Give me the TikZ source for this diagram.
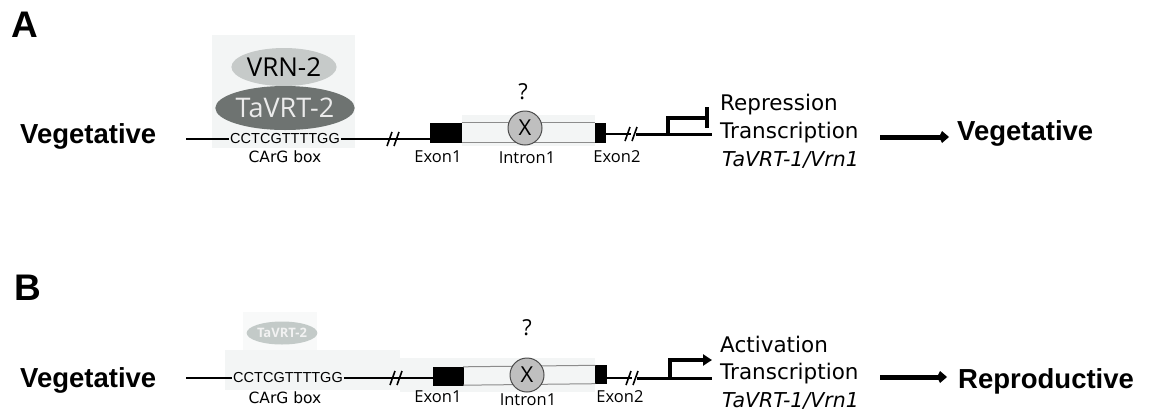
\documentclass[tikz,border=0pt]{standalone}
\usepackage{fontspec}
\setmainfont{Liberation Sans}
\newfontfamily\dvs{DejaVu Sans}
\newfontfamily\osans{Open Sans}
\usetikzlibrary{arrows.meta,shapes.geometric}
\definecolor{pale}{HTML}{F3F5F5}
\definecolor{vrnfill}{HTML}{C6CAC9}
\definecolor{vrtfill}{HTML}{6E7371}
\definecolor{faint}{HTML}{C3CAC8}
\begin{document}
\begin{tikzpicture}[x=1pt,y=-1pt,
  panel/.style={font=\fontsize{37}{40}\selectfont\bfseries, anchor=base west, inner sep=0},
  stage/.style={font=\fontsize{27.5}{30}\selectfont\bfseries, anchor=base west, inner sep=0},
  rtext/.style={font=\dvs\fontsize{21.5}{24}\selectfont, anchor=base west, inner sep=0},
  gene/.style={font=\dvs\itshape\fontsize{20.5}{24}\selectfont, anchor=base west, inner sep=0},
  seq/.style={font=\fontsize{14.5}{16}\selectfont, inner sep=1pt},
  carg/.style={font=\dvs\fontsize{15.5}{18}\selectfont},
  exlab/.style={font=\osans\fontsize{16.5}{18}\selectfont},
  exonbox/.style={fill=black, draw=black, inner sep=0},
  xcirc/.style={circle, draw=black!70, fill=black!25, line width=1pt, minimum size=34pt, inner sep=0, font=\osans\fontsize{22}{24}\selectfont},
  qmark/.style={font=\osans\fontsize{22}{24}\selectfont},
  dnathin/.style={line width=1.6pt},
  dnathick/.style={line width=3pt},
  brk/.style={line width=1.6pt},
  promo/.style={line width=3.2pt},
  bigarrow/.style={line width=5pt, -{Kite[length=10pt,width=12pt,inset=3pt]}},
  introl/.style={line width=1pt, draw=black!45}
]
\useasboundingbox (0,0) rectangle (1151,413);

%% ================= Panel A =================
\node[panel] (A) at (11,37) {A};
\node[stage] (vegA) at (20,143) {Vegetative};
% protein background
\fill[pale] (212,35) rectangle (355,148);
\node[ellipse, fill=vrnfill, minimum width=82pt, minimum height=38pt, inner sep=0,
      font=\osans\fontsize{26}{28}\selectfont] (vrn2) at (284,67) {VRN-2};
\node[ellipse, fill=vrtfill, minimum width=134pt, minimum height=44pt, inner sep=0,
      text=white!92!black, font=\osans\fontsize{27}{28}\selectfont] (vrt2) at (285,108) {TaVRT-2};
\node[seq] (seqA) at (285,139) {CCTCGTTTTGG};
\node[carg] (cargA) at (285,157) {CArG box};
\coordinate (a0) at (186,139);
\coordinate (ab) at (393,139);
% intron
\fill[pale] (462,115) rectangle (595,146);
\node[exonbox, minimum width=31pt, minimum height=19pt] (ex1A) at (446,132.5) {};
\node[exonbox, minimum width=10pt, minimum height=19pt] (ex2A) at (600,132.5) {};
\draw[introl] (ex1A.north east) -- (ex2A.north west);
\draw[introl] (ex1A.south east) -- (ex2A.south west);
\node[xcirc] (xA) at (525,128) {X};
\node[qmark] (qA) at (523,92) {?};
\node[exlab] (e1lA) at (438,157) {Exon1};
\node[exlab] (i1lA) at (527,158) {Intron1};
\node[exlab] (e2lA) at (617,157) {Exon2};
\draw[dnathin] (a0) -- (seqA.west);
\draw[dnathin] (seqA.east) -- (ab) -- (ex1A.west |- ab);
\draw[brk] ([shift={(-6,7)}]ab) -- ([shift={(-1,-7)}]ab);
\draw[brk] ([shift={(1,7)}]ab) -- ([shift={(6,-7)}]ab);
\coordinate (ac) at (631,134);
\coordinate (ac2) at (636,134);
\coordinate (apr) at (668,134);
\coordinate (aend) at (712,134);
\draw[dnathin] (ex2A.east |- ac) -- (ac);
\draw[dnathick] (ac2) -- (aend);
\draw[brk] ([shift={(-6,7)}]ac) -- ([shift={(-1,-7)}]ac);
\draw[brk] ([shift={(1,7)}]ac) -- ([shift={(6,-7)}]ac);
\coordinate (abar) at (707,118);
\draw[promo] (apr) |- (abar);
\draw[promo] (707,107) -- (707,128);
\node[rtext] (repA) at (720,110) {Repression};
\node[rtext] (trA) at (720,138) {Transcription};
\node[gene] (genA) at (722,166) {TaVRT-1/Vrn1};
\node[stage] (vegRA) at (957,140) {Vegetative};
\coordinate (arA1) at (880,137);
\coordinate (arA2) at (949,137);
\draw[bigarrow] (arA1) -- (arA2);

%% ================= Panel B =================
\node[panel] (B) at (14,300) {B};
\node[stage] (vegB) at (20,387) {Vegetative};
\fill[pale!60!white] (243,312) rectangle (317,350);
\fill[pale] (225,350) rectangle (400,390);
\node[ellipse, fill=faint, minimum width=62pt, minimum height=23pt, inner sep=0,
      text=white!95!black, font=\osans\bfseries\fontsize{13}{14}\selectfont] (vrt2B) at (282,333) {TaVRT-2};
\node[seq] (seqB) at (288,378) {CCTCGTTTTGG};
\node[carg] (cargB) at (285,398) {CArG box};
\coordinate (b0) at (186,378);
\coordinate (bb) at (396,378);
\fill[pale] (400,358) rectangle (595,392);
\node[exonbox, minimum width=30pt, minimum height=18pt] (ex1B) at (448,376) {};
\node[exonbox, minimum width=11pt, minimum height=18pt] (ex2B) at (601,374.5) {};
\draw[introl] (ex1B.north east) -- (ex2B.north west);
\draw[introl] (ex1B.south east) -- (ex2B.south west);
\node[xcirc] (xB) at (527,375) {X};
\node[qmark] (qB) at (527,328) {?};
\node[exlab] (e1lB) at (438,397) {Exon1};
\node[exlab] (i1lB) at (528,400) {Intron1};
\node[exlab] (e2lB) at (620,397) {Exon2};
\draw[dnathin] (b0) -- (seqB.west);
\draw[dnathin] (seqB.east) -- (bb) -- (ex1B.west |- bb);
\draw[brk] ([shift={(-6,7)}]bb) -- ([shift={(-1,-7)}]bb);
\draw[brk] ([shift={(1,7)}]bb) -- ([shift={(6,-7)}]bb);
\coordinate (bc) at (632,378);
\coordinate (bc2) at (637,378);
\coordinate (bpr) at (670,378);
\coordinate (bend) at (712,378);
\coordinate (btip) at (712,360);
\draw[dnathin] (ex2B.east |- bc) -- (bc);
\draw[dnathick] (bc2) -- (bend);
\draw[brk] ([shift={(-6,7)}]bc) -- ([shift={(-1,-7)}]bc);
\draw[brk] ([shift={(1,7)}]bc) -- ([shift={(6,-7)}]bc);
\draw[promo, -{Triangle[length=9pt,width=11pt]}] (bpr) |- (btip);
\node[rtext] (actB) at (720,352) {Activation};
\node[rtext] (trB) at (720,379) {Transcription};
\node[gene] (genB) at (722,407) {TaVRT-1/Vrn1};
\node[stage] (repB) at (958,388) {Reproductive};
\coordinate (arB1) at (880,377);
\coordinate (arB2) at (947,377);
\draw[bigarrow] (arB1) -- (arB2);
\end{tikzpicture}
\end{document}
